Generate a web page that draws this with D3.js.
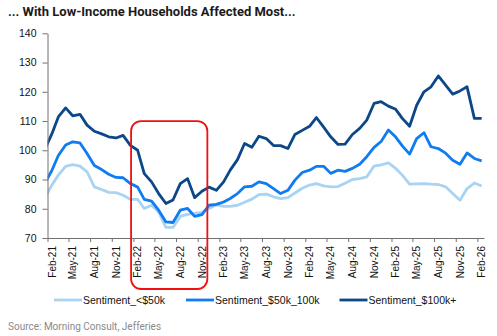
<!DOCTYPE html>
<html>
<head>
<meta charset="utf-8">
<script src="https://cdn.jsdelivr.net/npm/d3@7"></script>
<style>
  body { margin: 0; background: #fff; }
  svg { display: block; }
</style>
</head>
<body>
<svg></svg>
<script>
const svg = d3.select("svg");
const svg_width = 497;
const svg_height = 336;
svg.attr("width", svg_width).attr("height", svg_height);

// monthly readings, Jan-21 .. Feb-26 (plotted mid-month)
const months = d3.timeMonth.range(new Date(2021, 0, 1), new Date(2026, 2, 1))
    .map(d => new Date(d.getFullYear(), d.getMonth(), 19));

const sentUnder50k = [83.5, 88, 91.5, 94.5, 95.1, 94.6, 92.6, 87.5, 86.6, 85.6,
    85.5, 84.6, 83.2, 83.2, 80.1, 81.2, 78.9, 73.6, 73.6, 77.4,
    78.1, 78.4, 78.8, 80.1, 81.3, 80.8, 80.8, 81.2, 82.2, 83.3,
    84.8, 85, 84.1, 83.5, 83.8, 85.4, 87, 88.1, 88.6, 87.8,
    87.5, 87.6, 88.7, 90, 90.3, 90.9, 94.6, 95, 95.7, 93.8,
    91.5, 88.4, 88.5, 88.6, 88.4, 88.3, 87.5, 85.2, 82.9, 86.9,
    88.8, 87.8];

const sent50kTo100k = [88.5, 93, 98.2, 101.8, 102.9, 102.5, 98.9, 94.8, 93.4, 91.8,
    90.7, 90.6, 88.6, 87.4, 83.2, 82.6, 79.5, 75.5, 75.3, 79.5,
    80.1, 77.4, 78, 81.2, 81.5, 82.3, 83.5, 85.2, 87.5, 87.7,
    89.2, 88.6, 86.9, 85.2, 86.3, 89.8, 92.4, 93.2, 94.5, 94.5,
    92.1, 93.2, 92.8, 93.8, 95.2, 97.8, 101, 103, 106.9, 104.5,
    101.5, 98.7, 104, 106, 101.2, 100.6, 99, 96.6, 95.2, 99.1,
    97.2, 96.4];

const sentOver100k = [100, 105.5, 111.4, 114.5, 111.8, 112.3, 108.6, 106.5, 105.6, 104.6,
    104.2, 105.1, 101.7, 100, 92, 89.2, 85.2, 81.8, 83, 88.6,
    90.3, 83.8, 86, 87.4, 86.3, 89.2, 93.2, 96.8, 102.3, 101,
    104.8, 104, 101.6, 101.6, 100.6, 105.4, 106.8, 108.2, 111.2, 107.9,
    104.6, 102, 102.1, 105.4, 107.5, 110.3, 116, 116.6, 115.1, 114,
    110.9, 108.2, 115.4, 120, 121.7, 125.4, 122.3, 119.2, 120.3, 121.7,
    110.9, 110.9];

const seriesNames = ["Sentiment_<$50k", "Sentiment_$50k_100k", "Sentiment_$100k+"];
const seriesColors = ["#a9d3f3", "#0f7cf2", "#0c4888"];
const seriesValues = [sentUnder50k, sent50kTo100k, sentOver100k];

const yTicks = [70, 80, 90, 100, 110, 120, 130, 140];

// highlighted stretch of 2022
const boxStart = new Date(2022, 0, 22);
const boxEnd = new Date(2022, 11, 12);
const boxTop = 110;

const plot = { left: 47.5, right: 484, top: 33.3, bottom: 238 };

const x = d3.scaleTime()
    .domain([new Date(2021, 1, 1), new Date(2026, 2, 1)])
    .range([plot.left, plot.right]);

const y = d3.scaleLinear()
    .domain([70, 140])
    .range([plot.bottom, plot.top]);

// title
svg.append("text")
    .attr("x", 8)
    .attr("y", 16)
    .attr("font-family", "Roboto, 'Liberation Sans', sans-serif")
    .attr("font-weight", "bold")
    .attr("font-size", 13)
    .attr("fill", "#1a1a1a")
    .text("... With Low-Income Households Affected Most...");

svg.append("clipPath")
    .attr("id", "plot-clip")
    .append("rect")
    .attr("x", plot.left)
    .attr("y", 0)
    .attr("width", plot.right - plot.left + 4)
    .attr("height", svg_height);

// lines
const line = d3.line()
    .x((d, i) => x(months[i]))
    .y(d => y(d));

const lines = svg.append("g").attr("clip-path", "url(#plot-clip)");
seriesValues.forEach((vals, k) => {
    lines.append("path")
        .attr("d", line(vals))
        .attr("fill", "none")
        .attr("stroke", seriesColors[k])
        .attr("stroke-width", 2.8)
        .attr("stroke-linejoin", "round");
});

// y axis
const yAxis = svg.append("g")
    .attr("transform", `translate(${plot.left},0)`)
    .call(d3.axisLeft(y).tickValues(yTicks).tickSize(5).tickPadding(6).tickSizeOuter(0));
yAxis.select(".domain").attr("stroke", "#707070");
yAxis.selectAll(".tick line").attr("stroke", "#707070");
yAxis.selectAll("text")
    .attr("font-family", "'Liberation Sans', Arial, sans-serif")
    .attr("font-size", 10.5)
    .attr("fill", "#111");

// x axis, quarterly ticks with labels turned upright
const xTicks = d3.timeMonth.range(new Date(2021, 1, 1), new Date(2026, 2, 1), 3);
const xAxis = svg.append("g")
    .attr("transform", `translate(0,${plot.bottom})`)
    .call(d3.axisBottom(x).tickValues(xTicks).tickFormat(d3.timeFormat("%b-%y")).tickSize(4).tickSizeOuter(0));
xAxis.select(".domain").attr("stroke", "#707070");
xAxis.selectAll(".tick line").attr("stroke", "#707070");
xAxis.selectAll("text")
    .attr("font-family", "'Liberation Sans', Arial, sans-serif")
    .attr("font-size", 10)
    .attr("fill", "#111")
    .attr("text-anchor", "end")
    .attr("transform", "rotate(-90)")
    .attr("x", -8)
    .attr("y", 0)
    .attr("dy", "0.75em")
    .attr("dx", 0);

// red highlight box
svg.append("rect")
    .attr("x", x(boxStart))
    .attr("y", y(boxTop))
    .attr("width", x(boxEnd) - x(boxStart))
    .attr("height", plot.bottom + 51 - y(boxTop))
    .attr("rx", 10)
    .attr("fill", "none")
    .attr("stroke", "#f01010")
    .attr("stroke-width", 1.8);

// legend
const legendX = [54, 186, 339.5];
const legend = svg.append("g").attr("transform", "translate(0,300)");
seriesNames.forEach((name, k) => {
    legend.append("line")
        .attr("x1", legendX[k])
        .attr("x2", legendX[k] + 28)
        .attr("y1", 0)
        .attr("y2", 0)
        .attr("stroke", seriesColors[k])
        .attr("stroke-width", 2.8);
    legend.append("text")
        .attr("x", legendX[k] + 29)
        .attr("y", 0)
        .attr("dy", "0.35em")
        .attr("font-family", "'Liberation Sans', Arial, sans-serif")
        .attr("font-size", 10.5)
        .attr("fill", "#111")
        .text(name);
});

// source note
svg.append("text")
    .attr("x", 8)
    .attr("y", 330)
    .attr("font-family", "Roboto, 'Liberation Sans', sans-serif")
    .attr("font-size", 10)
    .attr("fill", "#8a8a8a")
    .text("Source: Morning Consult, Jefferies");
</script>
</body>
</html>
